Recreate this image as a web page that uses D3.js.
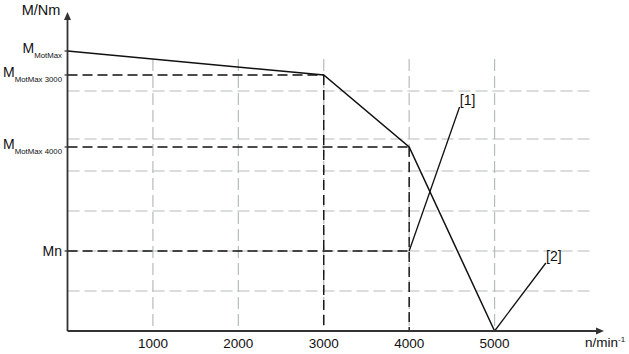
<!DOCTYPE html>
<html>
<head>
<style>
  body{
    margin: 0;
    background: white;
    font-family: 'Liberation Sans', Arial, sans-serif;
  }
</style>
</head>
<body>
<svg id='svgVis'></svg>
<script src="https://d3js.org/d3.v7.min.js"></script>
<script>

// speed ticks, rpm
var xTicks = [1000, 2000, 3000, 4000, 5000];
// torque levels (arbitrary units)
var gridLevels = [10, 20, 30, 40, 48, 60];
var gridTop = 68;
// torque curve: speed -> torque
var curveSpeed = [0, 3000, 4000, 5000];
var curveTorque = [70, 64, 46, 0];
// named torque levels
var mMotMax = 70, mMotMax3000 = 64, mMotMax4000 = 46, mN = 20;
// callout leaders
var calloutNames = ['[1]', '[2]'];
var calloutFrom = [[4000, 20], [5000, 0]];
var calloutTo = [[4590, 56], [5600, 17]];

var width = 629, height = 354;

var svg = d3.select('#svgVis')
    .attr('width', width)
    .attr('height', height);

var x = d3.scaleLinear().domain([0, 6000]).range([67.5, 580]);
var y = d3.scaleLinear().domain([0, 80]).range([331, 11]);

var grey = '#b4bdba';
var ink = '#111';

// grid
svg.append('g').selectAll('line')
  .data(gridLevels)
  .enter().append('line')
  .attr('x1', x(0)).attr('x2', 592)
  .attr('y1', function(d) { return y(d); })
  .attr('y2', function(d) { return y(d); })
  .attr('stroke', grey).attr('stroke-width', 1.2)
  .attr('stroke-dasharray', '12,5');

svg.append('g').selectAll('line')
  .data(xTicks)
  .enter().append('line')
  .attr('x1', function(d) { return x(d); })
  .attr('x2', function(d) { return x(d); })
  .attr('y1', y(gridTop)).attr('y2', y(0))
  .attr('stroke', grey).attr('stroke-width', 1.2)
  .attr('stroke-dasharray', '12,5');

// black dashed helper lines
var dash = svg.append('g')
  .attr('stroke', ink).attr('stroke-width', 1.4)
  .attr('stroke-dasharray', '10,5').attr('fill', 'none');

dash.append('line').attr('x1', x(0)).attr('x2', x(3000))
  .attr('y1', y(mMotMax3000)).attr('y2', y(mMotMax3000));
dash.append('line').attr('x1', x(0)).attr('x2', x(4000))
  .attr('y1', y(mMotMax4000)).attr('y2', y(mMotMax4000));
dash.append('line').attr('x1', x(0)).attr('x2', x(4000))
  .attr('y1', y(mN)).attr('y2', y(mN));
dash.append('line').attr('x1', x(3000)).attr('x2', x(3000))
  .attr('y1', y(mMotMax3000)).attr('y2', y(0));
dash.append('line').attr('x1', x(4000)).attr('x2', x(4000))
  .attr('y1', y(mMotMax4000)).attr('y2', y(0));

// torque curve
var curve = curveSpeed.map(function(d, i) { return [d, curveTorque[i]]; });
svg.append('path')
  .datum(curve)
  .attr('d', d3.line()
    .x(function(d) { return x(d[0]); })
    .y(function(d) { return y(d[1]); }))
  .attr('fill', 'none').attr('stroke', ink).attr('stroke-width', 1.5);

// callouts
calloutNames.forEach(function(name, i) {
  svg.append('line')
    .attr('x1', x(calloutFrom[i][0])).attr('y1', y(calloutFrom[i][1]))
    .attr('x2', x(calloutTo[i][0])).attr('y2', y(calloutTo[i][1]))
    .attr('stroke', ink).attr('stroke-width', 1.3);
  svg.append('text')
    .attr('x', x(calloutTo[i][0]) + 8)
    .attr('y', y(calloutTo[i][1]) - 2)
    .attr('text-anchor', 'middle')
    .style('font-size', '14px')
    .style('fill', ink)
    .text(name);
});

// axes
var axisCol = '#333';
svg.append('line').attr('x1', x(0)).attr('x2', 598)
  .attr('y1', y(0)).attr('y2', y(0))
  .attr('stroke', axisCol).attr('stroke-width', 1.8);
svg.append('path').attr('d', 'M604,331 L596,327.5 L596,334.5 Z').attr('fill', axisCol);

svg.append('line').attr('x1', x(0)).attr('x2', x(0))
  .attr('y1', y(0)).attr('y2', 19)
  .attr('stroke', axisCol).attr('stroke-width', 1.8);
svg.append('path').attr('d', 'M67.5,12 L64,20 L71,20 Z').attr('fill', axisCol);

// x tick labels
svg.append('g').selectAll('text')
  .data(xTicks)
  .enter().append('text')
  .attr('x', function(d) { return x(d); })
  .attr('y', 348)
  .attr('text-anchor', 'middle')
  .style('font-size', '13.5px')
  .style('fill', ink)
  .text(function(d) { return d; });

// axis titles
svg.append('text').attr('x', 41).attr('y', 15).attr('text-anchor', 'middle')
  .style('font-size', '14.5px').style('fill', ink).text('M/Nm');

var xt = svg.append('text').attr('x', 585).attr('y', 347)
  .style('font-size', '13.5px').style('fill', ink);
xt.append('tspan').text('n/min');
xt.append('tspan').attr('dy', -5).style('font-size', '8px').text('-1');

// y labels with subscripts
var yLabels = [
  {v: mMotMax, main: 'M', sub: 'MotMax'},
  {v: mMotMax3000, main: 'M', sub: 'MotMax 3000'},
  {v: mMotMax4000, main: 'M', sub: 'MotMax 4000'},
  {v: mN, main: 'Mn', sub: ''}
];
yLabels.forEach(function(d) {
  var t = svg.append('text')
    .attr('x', 62).attr('y', y(d.v) + 2)
    .attr('text-anchor', 'end')
    .style('font-size', '14px').style('fill', ink);
  t.append('tspan').text(d.main);
  if (d.sub) {
    t.append('tspan').attr('dy', 5).style('font-size', '7.8px').text(d.sub);
  } else {
    t.attr('y', y(d.v) + 5);
  }
  svg.append('line').attr('x1', x(0) - 3).attr('x2', x(0))
    .attr('y1', y(d.v)).attr('y2', y(d.v))
    .attr('stroke', axisCol).attr('stroke-width', 1.2);
});

</script>
</body>
</html>
